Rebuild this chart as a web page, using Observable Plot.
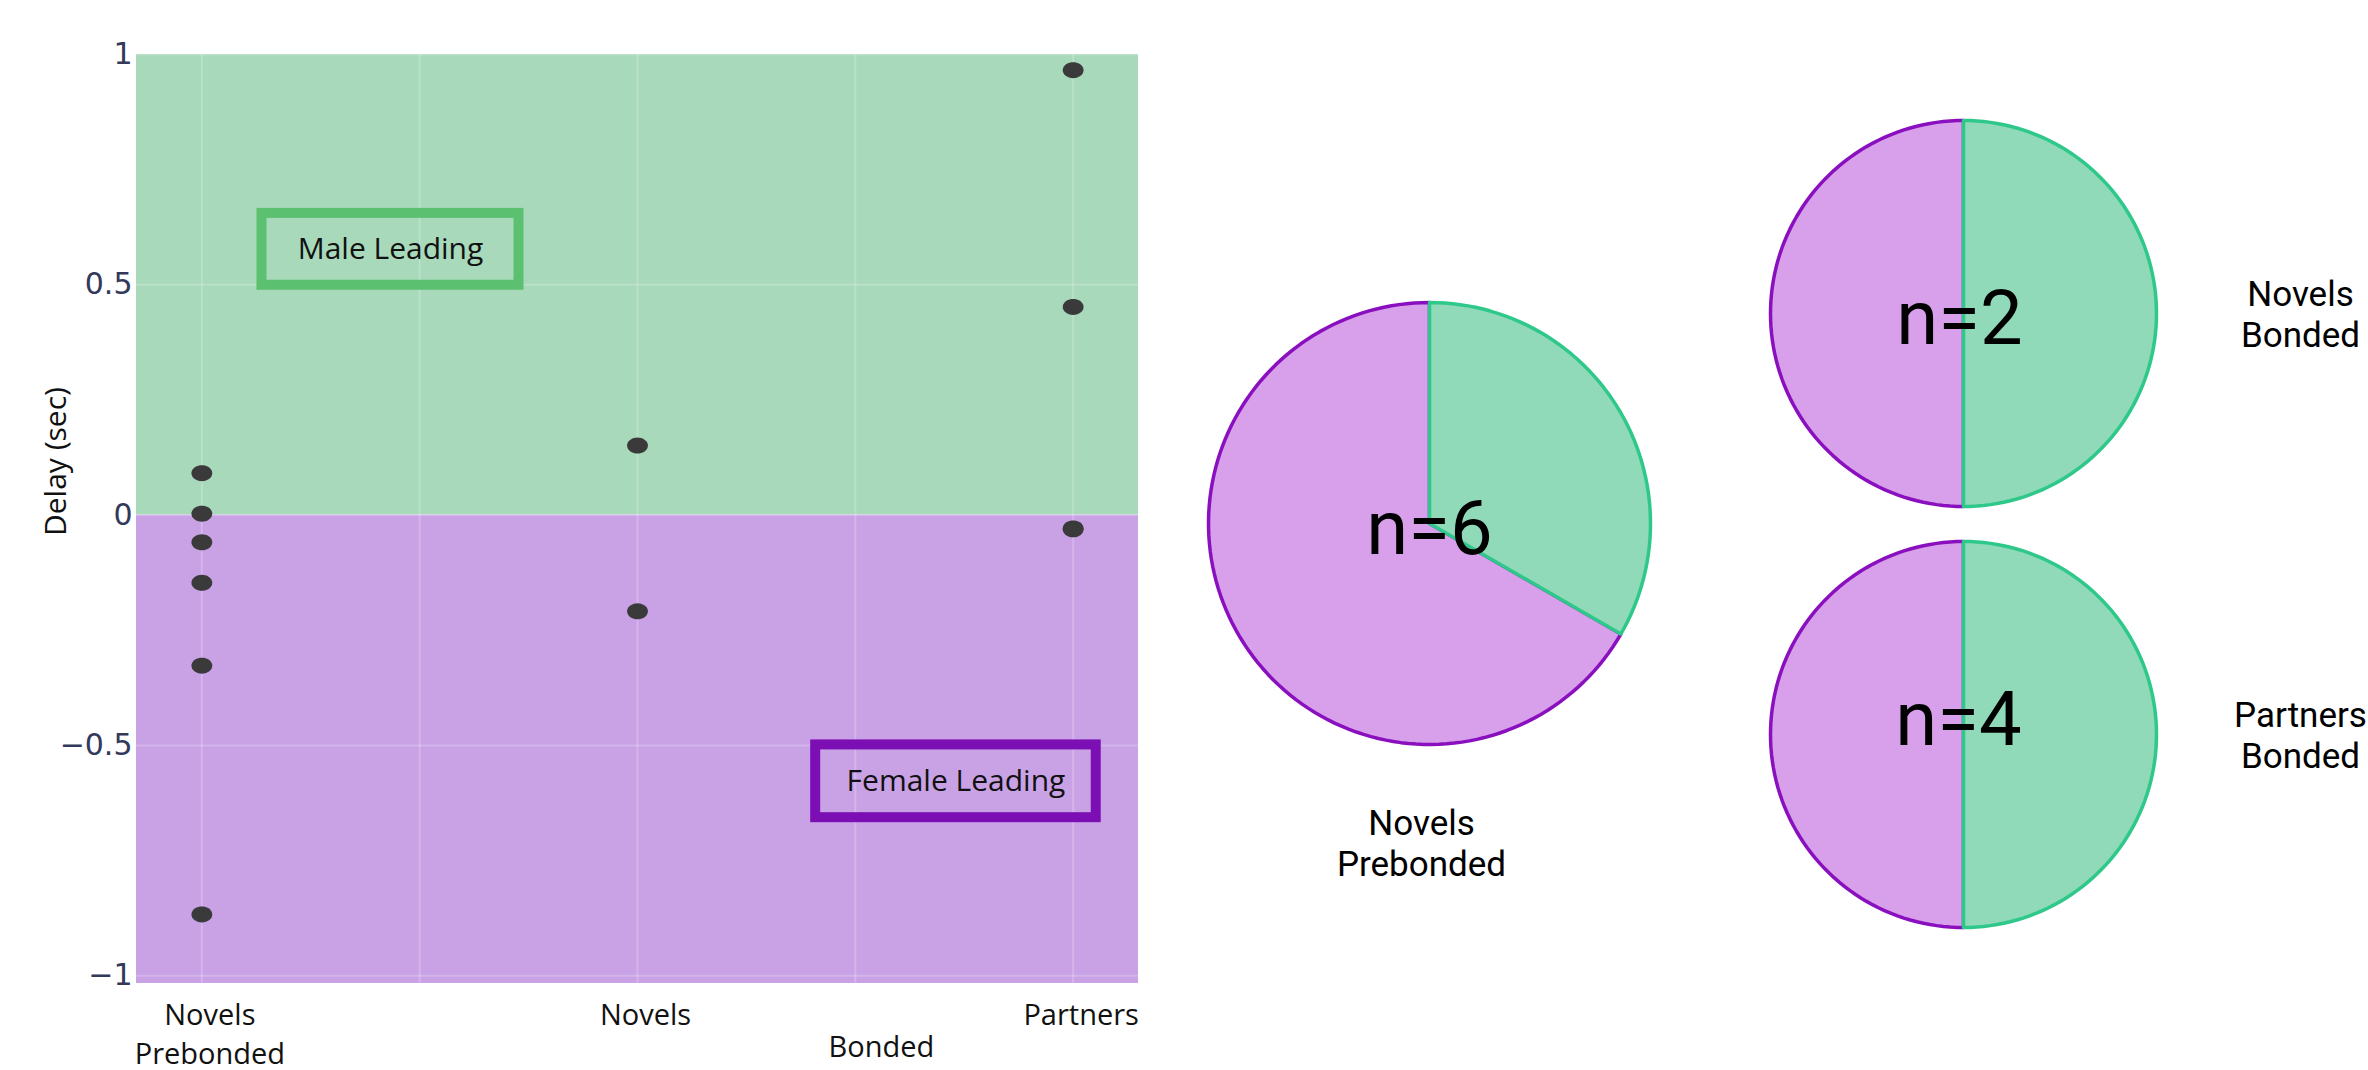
<!DOCTYPE html>
<html>
<head>
<meta charset="utf-8">
<script src="https://cdn.jsdelivr.net/npm/d3@7"></script>
<script src="https://cdn.jsdelivr.net/npm/@observablehq/plot@0.6"></script>
<style>
  html, body { margin: 0; padding: 0; background: #fff; }
  #fig { position: relative; width: 2368px; height: 1070px; overflow: hidden; background: #fff; }
  #fig > .part { position: absolute; }
</style>
</head>
<body>
<div id="fig"></div>
<script>
// ---------------- data ----------------
const groupLabels = ["Novels\nPrebonded", "Novels", "Partners"];   // x tick labels (category index 0,1,2)
const bondedGroupLabel = "Bonded";                                // spans categories 1 and 2
const bondedGroupMembers = [1, 2];
const delayNovelsPrebonded = [0.091, 0.003, -0.059, -0.147, -0.327, -0.867];
const delayNovelsBonded = [0.151, -0.209];
const delayPartnersBonded = [0.966, 0.452, -0.029, -0.031];
const yTicks = [-1, -0.5, 0, 0.5, 1];
const xGrid = [0, 0.5, 1, 1.5, 2];
const regionLabels = ["Male Leading", "Female Leading"];

const pieLabels = ["Novels\nPrebonded", "Novels\nBonded", "Partners\nBonded"];
const pieN = [6, 2, 4];
const pieMaleLeading = [2, 1, 2];
const pieFemaleLeading = [4, 1, 2];

// ---------------- styles ----------------
const GREEN_BG = "#a8d9bb", PURPLE_BG = "#c9a2e6";
const GREEN_BOX = "#5bc06f", PURPLE_BOX = "#7b0fb3";
const PIE_GREEN = "#90d9b9", PIE_GREEN_STROKE = "#2ec98a";
const PIE_PURPLE = "#d8a0ea", PIE_PURPLE_STROKE = "#8a10bf";

const fig = document.getElementById("fig");
function place(svg, left, top) {
  const wrap = document.createElement("div");
  wrap.className = "part";
  wrap.style.left = left + "px";
  wrap.style.top = top + "px";
  wrap.appendChild(svg);
  fig.appendChild(wrap);
}

// ---------------- scatter ----------------
const points = [
  ...delayNovelsPrebonded.map(v => ({g: 0, v})),
  ...delayNovelsBonded.map(v => ({g: 1, v})),
  ...delayPartnersBonded.map(v => ({g: 2, v}))
];
const yMin = -1.017, yMax = 1;
const regions = [
  {label: regionLabels[0], y1: 0, y2: yMax, fill: GREEN_BG},
  {label: regionLabels[1], y1: yMin, y2: 0, fill: PURPLE_BG}
];
// annotation boxes (placement of the labels, in data units)
const annotations = [
  {text: regionLabels[0], x1: 0.138, x2: 0.728, y1: 0.499, y2: 0.655, color: GREEN_BOX},
  {text: regionLabels[1], x1: 1.409, x2: 2.053, y1: -0.657, y2: -0.499, color: PURPLE_BOX}
];

const ellipseSymbol = {
  draw(context, size) {
    const r = Math.sqrt(size / Math.PI);
    const rx = r * 1.3, ry = r;
    for (let i = 0; i <= 36; i++) {
      const a = (i / 36) * 2 * Math.PI;
      const px = rx * Math.cos(a), py = ry * Math.sin(a);
      if (i === 0) context.moveTo(px, py); else context.lineTo(px, py);
    }
    context.closePath();
  }
};

const scatter = Plot.plot({
  width: 1160,
  height: 1070,
  marginLeft: 136,
  marginRight: 22,
  marginTop: 54,
  marginBottom: 87,
  style: {fontFamily: "'Open Sans', sans-serif", background: "transparent", overflow: "visible"},
  x: {domain: [-0.15, 2.15]},
  y: {domain: [yMin, yMax]},
  color: {type: "identity"},
  marks: [
    Plot.rect(regions, {y1: "y1", y2: "y2", fill: "fill"}),
    Plot.ruleX(xGrid, {stroke: "white", strokeOpacity: 0.2, strokeWidth: 2}),
    Plot.ruleY(yTicks, {stroke: "white", strokeOpacity: 0.2, strokeWidth: 2}),
    Plot.rect(annotations, {x1: "x1", x2: "x2", y1: "y1", y2: "y2", fill: "none", stroke: "color", strokeWidth: 10}),
    Plot.text(annotations, {x: d => (d.x1 + d.x2) / 2, y: d => (d.y1 + d.y2) / 2, text: "text", fontSize: 30, fill: "#111"}),
    Plot.dot(points, {x: "g", y: "v", r: 8, symbol: ellipseSymbol, fill: "#3a3a3a", stroke: "none"}),
    Plot.axisY({ticks: yTicks, tickFormat: "~g", tickSize: 0, tickPadding: 4, fontSize: 30, fontFamily: "'DejaVu Sans', sans-serif", fill: "#33395a", label: null}),
    Plot.axisX({ticks: [0, 1, 2], tickFormat: i => groupLabels[i], tickSize: 0, tickPadding: 13, fontSize: 29, lineHeight: 1.37, dx: 8, fill: "#111", label: null}),
    Plot.text([bondedGroupLabel], {x: () => d3.mean(bondedGroupMembers), frameAnchor: "bottom", lineAnchor: "top", dy: 53, dx: 26, fontSize: 29, fill: "#111"}),
    Plot.text(["Delay (sec)"], {frameAnchor: "left", rotate: -90, dx: -80, dy: 17, fontSize: 30, fill: "#111"})
  ]
});
place(scatter, 0, 0);

// ---------------- pies ----------------
function slicePoints(start, end) {
  const pts = [{x: 0, y: 0}];
  const n = Math.max(2, Math.ceil((end - start) * 180));
  for (let k = 0; k <= n; k++) {
    const t = 2 * Math.PI * (start + (end - start) * k / n);
    pts.push({x: Math.sin(t), y: Math.cos(t)});
  }
  pts.push({x: 0, y: 0});
  return pts;
}

function pie(i, cfg) {
  const n = pieN[i];
  const male = pieMaleLeading[i] / n;
  const female = pieFemaleLeading[i] / n;
  const r = cfg.r, pad = 10;
  const malePts = slicePoints(0, male);
  const femalePts = slicePoints(male, male + female);
  const svg = Plot.plot({
    width: cfg.width,
    height: cfg.height,
    style: {fontFamily: "Roboto, sans-serif", background: "transparent", overflow: "visible"},
    x: {domain: [-1, 1], range: [pad, pad + 2 * r], axis: null},
    y: {domain: [-1, 1], range: [pad + 2 * r, pad], axis: null},
    marks: [
      Plot.line(femalePts, {x: "x", y: "y", fill: PIE_PURPLE, stroke: PIE_PURPLE_STROKE, strokeWidth: 3.5, curve: "linear"}),
      Plot.line(malePts, {x: "x", y: "y", fill: PIE_GREEN, stroke: PIE_GREEN_STROKE, strokeWidth: 3.5, curve: "linear"}),
      Plot.text([{x: 0, y: 0, t: "n=" + n}], {x: "x", y: "y", text: "t", dx: cfg.nDx, dy: cfg.nDy, fontSize: 76, fill: "#000"}),
      Plot.text([{x: cfg.labelX, y: cfg.labelY, t: pieLabels[i]}], {x: "x", y: "y", text: "t", dx: cfg.labelDx, fontSize: 35, lineHeight: 1.18, fill: "#000"})
    ]
  });
  place(svg, cfg.left, cfg.top);
}

pie(0, {r: 221, left: 1198, top: 292, width: 470, height: 620, labelX: 0, labelY: -1.443, labelDx: -8, nDx: 0, nDy: 6});
pie(1, {r: 193, left: 1760, top: 110, width: 608, height: 406, labelX: 1.746, labelY: 0, labelDx: 0, nDx: -4, nDy: 6});
pie(2, {r: 193, left: 1760, top: 531, width: 608, height: 406, labelX: 1.746, labelY: 0, labelDx: 0, nDx: -5, nDy: -14});
</script>
</body>
</html>
